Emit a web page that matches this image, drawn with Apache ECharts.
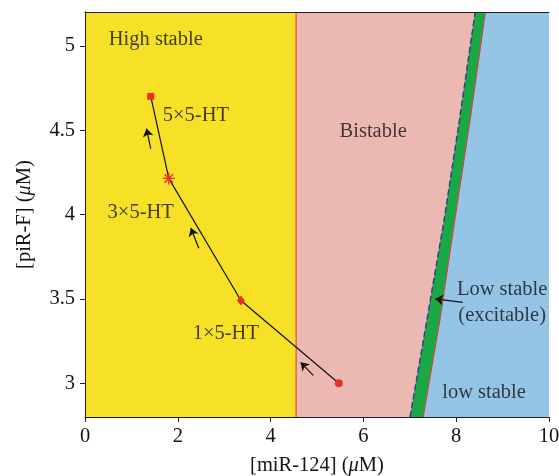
<!DOCTYPE html>
<html><head><meta charset="utf-8">
<script src="https://cdn.jsdelivr.net/npm/echarts@6/dist/echarts.min.js"></script>
<style>html,body{margin:0;padding:0;background:#fff}#c{width:559px;height:476px}</style>
</head><body><div id="c"></div>
<script>
// ---- data ----
const xTicks = [0, 2, 4, 6, 8, 10];
const yTicks = [3, 3.5, 4, 4.5, 5];
const xRange = [0, 10];
const yRange = [2.8, 5.2];
const yellowPinkX = 4.55;
const leftBoundary = [[7.006, 2.8], [7.37, 3.376], [7.74, 3.967], [8.07, 4.558], [8.41, 5.2]];
const rightBoundary = [[7.29, 2.8], [7.65, 3.376], [7.97, 3.967], [8.30, 4.558], [8.63, 5.2]];
const trajectory = [[5.47, 3.0], [3.36, 3.49], [1.806, 4.214], [1.417, 4.70]];
const trajSymbols = ['circle', 'diamond', 'star', 'rect'];
const arrows = [
  [[4.92, 3.047], [4.647, 3.124]],
  [[2.453, 3.80], [2.28, 3.92]],
  [[1.417, 4.391], [1.325, 4.509]]
];
const pointerArrow = [[8.14, 3.479], [7.545, 3.50]];
const labelTexts = ['High stable', '5×5-HT', '3×5-HT', '1×5-HT', 'Bistable', 'Low stable\n(excitable)', 'low stable'];
const labelPos = [[1.525, 5.037], [2.39, 4.588], [1.20, 4.009], [3.035, 3.294], [6.21, 4.494], [8.99, 3.478], [8.60, 2.946]];

// ---- styles ----
const FONT = '"Liberation Serif","DejaVu Serif",serif';
const FS = 20.5;
const TXT = '#161314';
const YELLOW = '#f6e126', PINK = '#ebb9b2', GREEN = '#19a843', BLUE = '#95c5e6', RED = '#e8312a', DASH = '#3c3a9a';
const ASTER = 'path://M-0.6,-5L0.6,-5L0.6,5L-0.6,5Z M-5,-0.6L5,-0.6L5,0.6L-5,0.6Z M-3.12,-3.96L3.96,3.12L3.12,3.96L-3.96,-3.12Z M3.96,-3.12L-3.12,3.96L-3.96,3.12L3.12,-3.96Z';

const regions = [
  {fill: YELLOW, pts: [[xRange[0], yRange[0]], [yellowPinkX, yRange[0]], [yellowPinkX, yRange[1]], [xRange[0], yRange[1]]]},
  {fill: PINK, pts: [[yellowPinkX, yRange[0]]].concat(leftBoundary, [[yellowPinkX, yRange[1]]])},
  {fill: GREEN, pts: leftBoundary.concat(rightBoundary.slice().reverse())},
  {fill: BLUE, pts: rightBoundary.concat([[xRange[1], yRange[1]], [xRange[1], yRange[0]]])}
];

const chart = echarts.init(document.getElementById('c'), null, {renderer: 'canvas'});
const axisCommon = {
  axisLine: {show: true, lineStyle: {color: '#231f20', width: 1}},
  splitLine: {show: false},
  z: 10
};
const nameStyle = {fontSize: FS, fontFamily: FONT, color: TXT, rich: {i: {fontSize: FS, fontFamily: FONT, fontStyle: 'italic', color: TXT}}};
chart.setOption({
  animation: false,
  backgroundColor: '#fff',
  grid: {left: 85, right: 10, top: 12, bottom: 59, containLabel: false, outerBoundsMode: 'none'},
  xAxis: [
    Object.assign({}, axisCommon, {
      type: 'value', min: xRange[0], max: xRange[1], interval: 2,
      axisTick: {show: true, length: 5, inside: false, customValues: xTicks, lineStyle: {color: '#231f20'}},
      axisLabel: {customValues: xTicks, fontSize: FS, fontFamily: FONT, color: TXT, margin: 9},
      name: '[miR-124] ({i|μ}M)', nameLocation: 'middle', nameGap: 38,
      nameTextStyle: nameStyle
    }),
    Object.assign({}, axisCommon, {
      type: 'value', position: 'top', min: xRange[0], max: xRange[1],
      axisTick: {show: false}, axisLabel: {show: false}
    })
  ],
  yAxis: [
    Object.assign({}, axisCommon, {
      type: 'value', min: yRange[0], max: yRange[1],
      axisTick: {show: true, length: 5, inside: false, customValues: yTicks, lineStyle: {color: '#231f20'}},
      axisLabel: {customValues: yTicks, fontSize: FS, fontFamily: FONT, color: TXT, margin: 10},
      name: '[piR-F] ({i|μ}M)', nameLocation: 'middle', nameGap: 50, nameRotate: 90,
      nameTextStyle: nameStyle
    }),
    Object.assign({}, axisCommon, {
      type: 'value', position: 'right', min: yRange[0], max: yRange[1],
      axisTick: {show: false}, axisLabel: {show: false}
    })
  ],
  series: [
    {
      type: 'custom', coordinateSystem: 'cartesian2d', clip: true, z: 1,
      data: regions.map((r, i) => [i]),
      renderItem: function (params, api) {
        const r = regions[params.dataIndex];
        return {
          type: 'polygon',
          shape: {points: r.pts.map(p => api.coord(p))},
          style: {fill: r.fill, stroke: r.fill, lineWidth: 0.5}
        };
      }
    },
    {type: 'line', z: 3, symbol: 'none', silent: true, data: [[yellowPinkX, yRange[0]], [yellowPinkX, yRange[1]]], lineStyle: {color: RED, width: 1}},
    {type: 'line', z: 3, symbol: 'none', silent: true, data: leftBoundary, lineStyle: {color: DASH, width: 1.5, type: [6, 3]}},
    {type: 'line', z: 3, symbol: 'none', silent: true, data: rightBoundary, lineStyle: {color: RED, width: 1}},
    {
      type: 'line', z: 5, silent: true,
      lineStyle: {color: '#111', width: 1.2},
      data: trajectory.map((p, i) => ({
        value: p,
        symbol: trajSymbols[i] === 'star' ? ASTER : trajSymbols[i],
        symbolSize: trajSymbols[i] === 'circle' ? 8 : trajSymbols[i] === 'diamond' ? [8, 10] : trajSymbols[i] === 'star' ? 12 : 7,
        itemStyle: {color: RED, borderWidth: 0}
      })),
      showAllSymbol: true
    },
    {
      type: 'lines', coordinateSystem: 'cartesian2d', z: 6, silent: true,
      symbol: ['none', 'arrow'], symbolSize: [6, 8],
      lineStyle: {color: '#111', width: 1.2, opacity: 1},
      data: arrows.concat([pointerArrow]).map(a => ({coords: a}))
    },
    {
      type: 'scatter', z: 7, silent: true, symbolSize: 1,
      itemStyle: {color: 'transparent'},
      data: labelPos,
      label: {
        show: true, position: 'inside', formatter: p => labelTexts[p.dataIndex],
        fontSize: FS, fontFamily: FONT, color: TXT, lineHeight: 26, align: 'center'
      }
    }
  ]
});
</script>
</body></html>
